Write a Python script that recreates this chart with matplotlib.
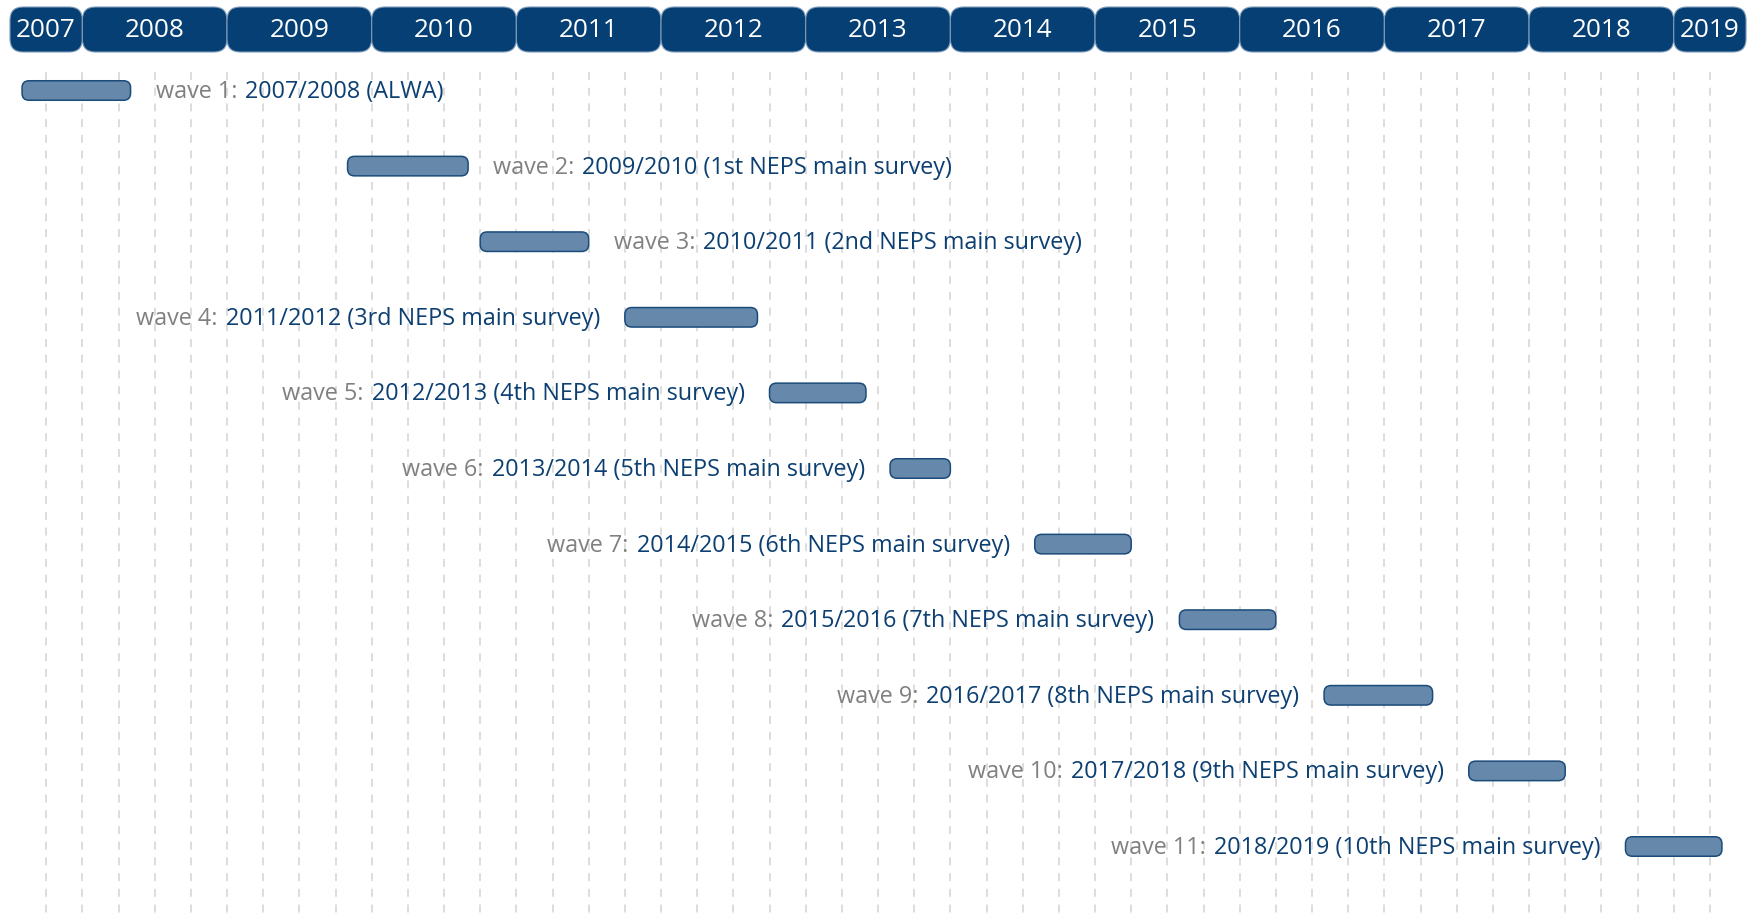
import matplotlib
matplotlib.use("Agg")
import matplotlib.pyplot as plt
from matplotlib.patches import FancyBboxPatch

plt.rcParams['font.family'] = ['Open Sans', 'DejaVu Sans']

# ---------------- data ----------------
header_years = [2007, 2008, 2009, 2010, 2011, 2012, 2013, 2014, 2015, 2016, 2017, 2018, 2019]
domain_start = 2007.5
domain_end = 2019.5

wave_labels = ['wave 1:', 'wave 2:', 'wave 3:', 'wave 4:', 'wave 5:', 'wave 6:',
               'wave 7:', 'wave 8:', 'wave 9:', 'wave 10:', 'wave 11:']
wave_periods = ['2007/2008 (ALWA)',
                '2009/2010 (1st NEPS main survey)',
                '2010/2011 (2nd NEPS main survey)',
                '2011/2012 (3rd NEPS main survey)',
                '2012/2013 (4th NEPS main survey)',
                '2013/2014 (5th NEPS main survey)',
                '2014/2015 (6th NEPS main survey)',
                '2015/2016 (7th NEPS main survey)',
                '2016/2017 (8th NEPS main survey)',
                '2017/2018 (9th NEPS main survey)',
                '2018/2019 (10th NEPS main survey)']
# field periods: first month of fieldwork, first month after fieldwork
start_months = ['2007-08', '2009-11', '2010-10', '2011-10', '2012-10', '2013-08',
                '2014-08', '2015-08', '2016-08', '2017-08', '2018-09']
end_months = ['2008-05', '2010-09', '2011-07', '2012-09', '2013-06', '2014-01',
              '2015-04', '2016-04', '2017-05', '2018-04', '2019-05']
label_side = ['right', 'right', 'right', 'left', 'left', 'left',
              'left', 'left', 'left', 'left', 'left']


def to_year(s):
    y, m = s.split('-')
    return int(y) + (int(m) - 1) / 12.0


starts = [to_year(s) for s in start_months]
ends = [to_year(s) for s in end_months]

# ---------------- style ----------------
W, H, DPI = 1748, 914, 100
HEADER_COLOR = '#053F73'
BAR_FILL = '#6689AB'
BAR_EDGE = '#1B4B7A'
TEXT_BLUE = '#0C3F72'
TEXT_GRAY = '#808080'
GRID_COLOR = '#DADADA'
LABEL_SIZE = 16.8

PX_PER_YEAR = 144.67
X_LEFT_PX = 10
ROW0_PX = 90.5
ROW_PX = 75.6

fig = plt.figure(figsize=(W / DPI, H / DPI), dpi=DPI)
ax = fig.add_axes([0, 0, 1, 1])
ax.set_axis_off()
xmin = domain_start - X_LEFT_PX / PX_PER_YEAR
xmax = xmin + W / PX_PER_YEAR
ax.set_xlim(xmin, xmax)


def py(px):
    return (px - ROW0_PX) / ROW_PX


ax.set_ylim(py(H), py(0))
aspect = PX_PER_YEAR / ROW_PX

# quarterly dashed grid
quarters = []
q = domain_start + 0.25
while q < domain_end - 1e-6:
    quarters.append(q)
    q += 0.25
ax.vlines(quarters, py(72), py(H), colors=GRID_COLOR, linewidth=1.3,
          linestyles=(0, (4.4, 4.3)), zorder=0)

# header bands
for yr in header_years:
    x0 = max(yr, domain_start)
    x1 = min(yr + 1, domain_end)
    p = FancyBboxPatch((x0, py(7)), x1 - x0, py(52) - py(7),
                       boxstyle='round,pad=0,rounding_size=%f' % (13 / PX_PER_YEAR),
                       mutation_aspect=aspect, facecolor=HEADER_COLOR,
                       edgecolor='#7F9CB9', linewidth=0.8, zorder=3)
    ax.add_patch(p)
    ax.text((x0 + x1) / 2, py(30.5), str(yr), color='white', fontsize=18.8,
            ha='center', va='center', zorder=4)

# bars and labels
bar_h = 19.5 / ROW_PX
gap = 25 / PX_PER_YEAR
text_dy = 1.5 / ROW_PX
for i in range(len(wave_labels)):
    s, e = starts[i], ends[i]
    p = FancyBboxPatch((s, i - bar_h / 2), e - s, bar_h,
                       boxstyle='round,pad=0,rounding_size=%f' % (7 / PX_PER_YEAR),
                       mutation_aspect=aspect, facecolor=BAR_FILL,
                       edgecolor=BAR_EDGE, linewidth=1.1, zorder=2)
    ax.add_patch(p)
    if label_side[i] == 'right':
        t1 = ax.text(e + gap, i + text_dy, wave_labels[i], color=TEXT_GRAY,
                     fontsize=LABEL_SIZE, ha='left', va='center', zorder=2)
        ax.annotate(wave_periods[i], xy=(1, 0), xycoords=t1, xytext=(8, 0),
                    textcoords='offset pixels', color=TEXT_BLUE, fontsize=LABEL_SIZE,
                    ha='left', va='bottom', zorder=2)
    else:
        t2 = ax.text(s - gap, i + text_dy, wave_periods[i], color=TEXT_BLUE,
                     fontsize=LABEL_SIZE, ha='right', va='center', zorder=2)
        ax.annotate(wave_labels[i], xy=(0, 0), xycoords=t2, xytext=(-8, 0),
                    textcoords='offset pixels', color=TEXT_GRAY, fontsize=LABEL_SIZE,
                    ha='right', va='bottom', zorder=2)

fig.savefig('out.png', dpi=DPI, facecolor='white')
